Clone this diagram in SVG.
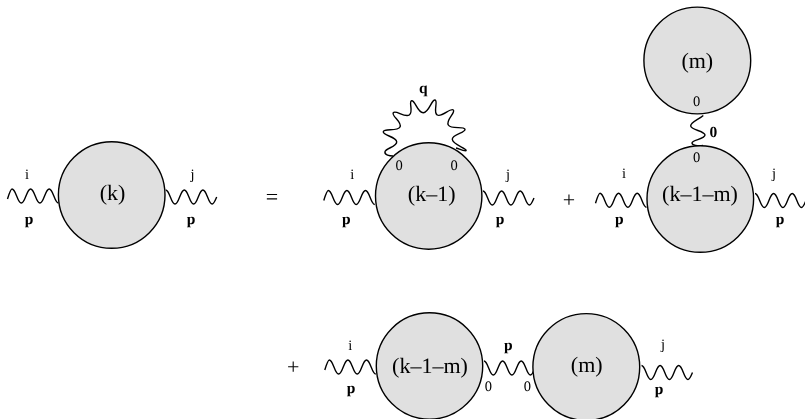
<svg xmlns="http://www.w3.org/2000/svg" width="805" height="419" viewBox="0 0 805 419">
<style>
.n{fill:#e0e0e0;stroke:#000;stroke-width:1.4}
.w{fill:none;stroke:#000;stroke-width:1.4}
g{filter:url(#gray)}
text{font-family:"Liberation Serif","Times New Roman",serif;fill:#000;text-anchor:middle;text-rendering:geometricPrecision}
.t{font-size:22px}
.s{font-size:14.5px}
.b{font-size:15.5px;font-weight:bold}
.o{font-size:22px}
</style>
<defs>
<filter id="gray" filterUnits="userSpaceOnUse" x="0" y="0" width="805" height="419" color-interpolation-filters="sRGB"><feOffset dx="0" dy="0"/></filter>
<path id="wa" d="M-4.5 10C-3 5-1.5 0 0 0c4 0 5.3 14 9.3 14s5.3-14 9.3-14 5.3 14 9.3 14 5.3-14 9.3-14 5.3 14 9.3 14"/>
<path id="wb" d="M0 0c4 0 5.3 14 9.3 14s5.3-14 9.3-14 5.3 14 9.3 14 5.3-14 9.3-14 5.3 14 9.3 14c1.8 0 3-3.5 4.5-7"/>
</defs>
<g id="connectors" class="w">
<use href="#wa" x="12" y="189"/>
<use href="#wb" x="165.7" y="190"/>
<use href="#wa" x="328.3" y="190.5"/>
<use href="#wb" x="483" y="191"/>
<path d="M393 156C390 156 384.1 155.3 385 151.7C385.9 148.1 397.1 146.7 396.7 141.7C396.3 136.7 382.5 135.4 383.3 131.7C384.1 128 397.5 131.8 400 127C402.5 122.2 391 115.7 393.3 112.7C395.6 109.7 404.7 118 409.3 115C413.9 112 408.2 101.3 411.7 100.7C415.2 100.1 417.5 112.9 423.3 112.7C429.1 112.5 431.5 99.4 435 100C438.5 100.6 432.7 112.5 437.3 115C441.9 117.5 450.55 107.5 453.3 110C456.05 112.5 445.4 120.2 448.3 125C451.2 129.8 464 125.7 465 129.3C466 132.9 452.05 134.1 452.3 139.3C452.55 144.5 465.1 147.8 466 150C466.9 152.2 460 149 456 148"/>
<path d="M703.3 115.5C698 120 690.5 122 690.7 126C691 130 705 131 705 135C705 139 692 140 692 143C692 145.5 698 146 703 145.5"/>
<use href="#wa" x="600" y="193.3"/>
<use href="#wb" x="755" y="193.5"/>
<use href="#wa" x="329.3" y="360"/>
<use href="#wb" x="484" y="361"/>
<use href="#wb" x="641.5" y="365.5"/>
</g>
<g id="node-k">
<circle class="n" cx="111.7" cy="195" r="53.3"/>
<text class="t" x="112.5" y="200">(k)</text>
<text class="s" x="27" y="179">i</text><text class="s" x="192.5" y="179">j</text>
<text class="b" x="29" y="223.5">p</text><text class="b" x="191" y="223.5">p</text>
</g>
<g id="node-k1">
<circle class="n" cx="428.7" cy="196" r="53.2"/>
<text class="t" x="431.7" y="201">(k–1)</text>
<text class="s" x="352.3" y="179">i</text><text class="s" x="508" y="179">j</text>
<text class="b" x="346.3" y="224">p</text><text class="b" x="500" y="224">p</text>
<text class="s" x="399" y="170">0</text><text class="s" x="454" y="170">0</text>
<text class="b" x="423.3" y="93">q</text>
</g>
<g id="node-m-top">
<circle class="n" cx="697.3" cy="60.5" r="53.4"/>
<text class="t" x="697.3" y="68">(m)</text>
<text class="s" x="696.7" y="106">0</text>
<text class="b" x="713.3" y="136.5">0</text>
</g>
<g id="node-k1m-top">
<circle class="n" cx="700.3" cy="199" r="53.3"/>
<text class="t" x="700" y="201">(k–1–m)</text>
<text class="s" x="696.7" y="162">0</text>
<text class="s" x="624" y="178">i</text><text class="s" x="774" y="178">j</text>
<text class="b" x="619.3" y="224">p</text><text class="b" x="780" y="224">p</text>
</g>
<g id="node-k1m-bottom">
<circle class="n" cx="429.5" cy="366" r="53.2"/>
<text class="t" x="430" y="372.5">(k–1–m)</text>
<text class="s" x="350.3" y="350">i</text>
<text class="b" x="351" y="393">p</text>
<text class="s" x="488.3" y="390.5">0</text>
<text class="b" x="508.3" y="350">p</text>
</g>
<g id="node-m-bottom">
<circle class="n" cx="586.3" cy="367" r="53.4"/>
<text class="t" x="586.7" y="372">(m)</text>
<text class="s" x="527.3" y="390.5">0</text>
<text class="s" x="663" y="349">j</text>
<text class="b" x="659" y="394">p</text>
</g>
<g id="operators">
<text class="o" x="272" y="204">=</text>
<text class="o" x="569" y="207">+</text>
<text class="o" x="293.3" y="374">+</text>
</g>
</svg>
